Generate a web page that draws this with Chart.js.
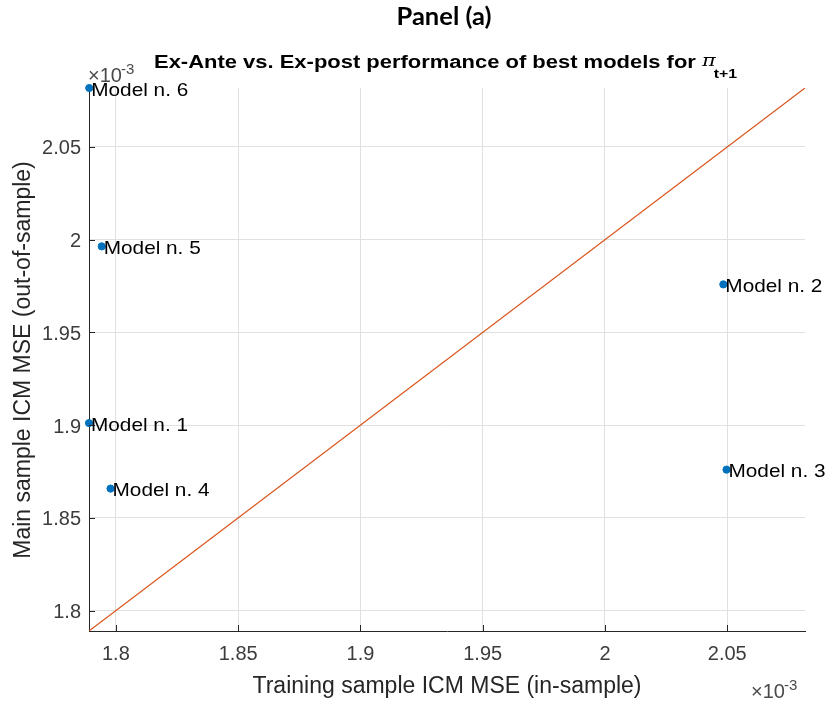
<!DOCTYPE html>
<html>
<head>
<meta charset="utf-8">
<script src="https://cdn.jsdelivr.net/npm/chart.js@4/dist/chart.umd.min.js"></script>
<style>
  html, body { margin: 0; padding: 0; background: #ffffff; }
  #wrap { width: 827px; height: 702px; position: relative; }
</style>
</head>
<body>
<div id="wrap"><canvas id="c" width="827" height="702"></canvas></div>
<script>
// Values are in units of 10^-3
const modelNames = ['Model n. 1', 'Model n. 2', 'Model n. 3', 'Model n. 4', 'Model n. 5', 'Model n. 6'];
const trainingMSE = [1.7890, 2.0484, 2.0497, 1.7978, 1.7942, 1.7891];   // in-sample
const mainMSE     = [1.9011, 1.9759, 1.8760, 1.8658, 1.9964, 2.0818];   // out-of-sample
const tickValues  = [1.8, 1.85, 1.9, 1.95, 2, 2.05];

// Both axes share limits spanning every value, so y = x runs corner to corner
const allVals = trainingMSE.concat(mainMSE);
const lo = Math.min(...allVals);
const hi = Math.max(...allVals);

const FONT = '"Liberation Sans", Arial, Helvetica, sans-serif';
const AXIS_COLOR = '#262626';
const TICK_TEXT = '#3c3c3c';

const points = trainingMSE.map((x, i) => ({ x: x, y: mainMSE[i] }));
const diagonal = [{ x: lo, y: lo }, { x: hi, y: hi }];

const fmt = v => String(Number(v.toFixed(3)));

// draws text widened horizontally by factor sx, anchored at its left edge
function wideText(ctx, str, x, y, sx) {
  ctx.save();
  ctx.translate(x, y);
  ctx.scale(sx, 1);
  ctx.textAlign = 'left';
  ctx.fillText(str, 0, 0);
  ctx.restore();
  return ctx.measureText(str).width * sx;
}

const decorations = {
  id: 'decorations',
  afterDatasetsDraw(chart) {
    const ctx = chart.ctx;
    const xs = chart.scales.x, ys = chart.scales.y;
    const area = chart.chartArea;
    ctx.save();

    // inward tick marks
    ctx.strokeStyle = AXIS_COLOR;
    ctx.lineWidth = 1;
    ctx.beginPath();
    tickValues.forEach(v => {
      const px = Math.round(xs.getPixelForValue(v)) + 0.5;
      ctx.moveTo(px, area.bottom);
      ctx.lineTo(px, area.bottom - 6);
      const py = Math.round(ys.getPixelForValue(v)) + 0.5;
      ctx.moveTo(area.left, py);
      ctx.lineTo(area.left + 6, py);
    });
    ctx.stroke();

    // point labels
    ctx.fillStyle = '#000000';
    ctx.font = '18.5px ' + FONT;
    ctx.textBaseline = 'middle';
    const labelSx = 97 / ctx.measureText('Model n. 6').width;
    points.forEach((p, i) => {
      const px = xs.getPixelForValue(p.x);
      const py = ys.getPixelForValue(p.y);
      wideText(ctx, modelNames[i], px + 2, py + 2.5, labelSx);
    });

    // panel heading
    ctx.textBaseline = 'alphabetic';
    ctx.font = 'bold 24px Lato, "Open Sans", sans-serif';
    const panel = 'Panel (a)';
    const pSx = 95 / ctx.measureText(panel).width;
    wideText(ctx, panel, 444 - 47.5, 25, pSx);

    // plot title with pi subscript
    const main = 'Ex-Ante vs. Ex-post performance of best models for ';
    ctx.font = 'bold 18px ' + FONT;
    const tSx = 548 / ctx.measureText(main).width;
    const wMain = ctx.measureText(main).width * tSx;
    ctx.font = 'italic 17px "DejaVu Serif", serif';
    const wPi = ctx.measureText('\u03C0').width * tSx;
    ctx.font = 'bold 13px ' + FONT;
    const wSub = ctx.measureText('t+1').width * tSx;
    let x0 = 445.5 - (wMain + wPi + wSub - 2) / 2;
    ctx.font = 'bold 18px ' + FONT;
    wideText(ctx, main, x0, 67.5, tSx);
    ctx.font = 'italic 17px "DejaVu Serif", serif';
    wideText(ctx, '\u03C0', x0 + wMain, 66, tSx);
    ctx.font = 'bold 13px ' + FONT;
    wideText(ctx, 't+1', x0 + wMain + wPi - 2, 78, tSx);

    // axis titles
    ctx.fillStyle = '#262626';
    ctx.font = '23px ' + FONT;
    ctx.textAlign = 'center';
    ctx.fillText('Training sample ICM MSE (in-sample)', 447, 693);
    ctx.save();
    ctx.translate(30, 360);
    ctx.rotate(-Math.PI / 2);
    ctx.fillText('Main sample ICM MSE (out-of-sample)', 0, 0);
    ctx.restore();

    // exponent labels
    ctx.fillStyle = '#4a4a4a';
    ctx.textAlign = 'left';
    ctx.font = '20px ' + FONT;
    ctx.fillText('\u00D710', 88, 82);
    ctx.font = '15px ' + FONT;
    ctx.fillText('-3', 121, 74);
    ctx.font = '20px ' + FONT;
    ctx.fillText('\u00D710', 751, 698);
    ctx.font = '15px ' + FONT;
    ctx.fillText('-3', 784, 690);

    ctx.restore();
  }
};

new Chart(document.getElementById('c'), {
  type: 'scatter',
  data: {
    datasets: [
      {
        label: 'diagonal',
        type: 'line',
        data: diagonal,
        borderColor: '#D95319',
        borderWidth: 1.2,
        pointRadius: 0,
        fill: false,
        order: 2
      },
      {
        label: 'models',
        data: points,
        backgroundColor: '#0072BD',
        borderColor: '#0072BD',
        pointRadius: 3.6,
        pointHoverRadius: 3.6,
        clip: false,
        order: 1
      }
    ]
  },
  options: {
    responsive: false,
    animation: false,
    devicePixelRatio: 1,
    layout: { padding: { top: 88, right: 22, left: 0, bottom: 0 } },
    plugins: {
      legend: { display: false },
      title: { display: false },
      tooltip: { enabled: false }
    },
    scales: {
      x: {
        type: 'linear',
        min: lo,
        max: hi,
        afterBuildTicks(s) { s.ticks = tickValues.map(v => ({ value: v })); },
        afterFit(s) { s.height = 71; },
        grid: { color: '#e0e0e0', drawTicks: false, lineWidth: 1 },
        border: { color: AXIS_COLOR, width: 1 },
        ticks: {
          padding: 11,
          color: TICK_TEXT,
          font: { size: 20, family: FONT },
          callback: v => fmt(v),
          maxRotation: 0
        }
      },
      y: {
        type: 'linear',
        min: lo,
        max: hi,
        afterBuildTicks(s) { s.ticks = tickValues.map(v => ({ value: v })); },
        afterFit(s) { s.width = 89; },
        grid: { color: '#e0e0e0', drawTicks: false, lineWidth: 1 },
        border: { color: AXIS_COLOR, width: 1 },
        ticks: {
          padding: 8,
          labelOffset: 2,
          color: TICK_TEXT,
          font: { size: 20, family: FONT },
          callback: v => fmt(v)
        }
      }
    }
  },
  plugins: [decorations]
});
</script>
</body>
</html>
